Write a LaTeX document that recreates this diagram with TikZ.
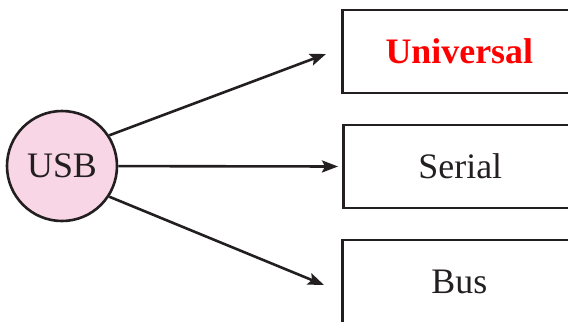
\documentclass[tikz,border=0pt]{standalone}
\usepackage{fontspec}
\setmainfont{Liberation Serif}
\usetikzlibrary{arrows.meta}
\definecolor{linie}{RGB}{35,31,32}
\definecolor{rosa}{RGB}{249,214,229}
\definecolor{rot}{RGB}{255,0,0}
\tikzset{>={Stealth[length=16bp,width=12bp,inset=3bp]}}
\tikzset{kasten/.style={draw=linie, rectangle, anchor=west, inner sep=0pt,
		minimum width=234bp, minimum height=83bp}}

\begin{document}
\begin{tikzpicture}[x=1bp, y=-1bp, linie, line width=2.6bp,
		font=\fontsize{36}{40}\selectfont]

	\useasboundingbox (0,0) rectangle (568,321);

	\node[circle, draw, fill=rosa, minimum size=110bp, inner sep=0pt] (usb) at (62,166) {USB};

	\node[kasten, text=rot, font=\fontsize{36}{40}\selectfont\bfseries] (universal) at (341,51.5) {Universal};
	\node[kasten] (serial) at (342,166.5) {Serial};
	\node[kasten] (bus) at (341,281.5) {Bus};

	% arrow tips stop short of the boxes
	\coordinate (spitzeU) at (326,54);
	\coordinate (spitzeB) at (324,285);

	\draw[->] (usb.33) -- (spitzeU);
	\draw[->, shorten >=4bp] (usb) -- (serial.west);
	\draw[->] (usb.-33) -- (spitzeB);
\end{tikzpicture}
\end{document}
